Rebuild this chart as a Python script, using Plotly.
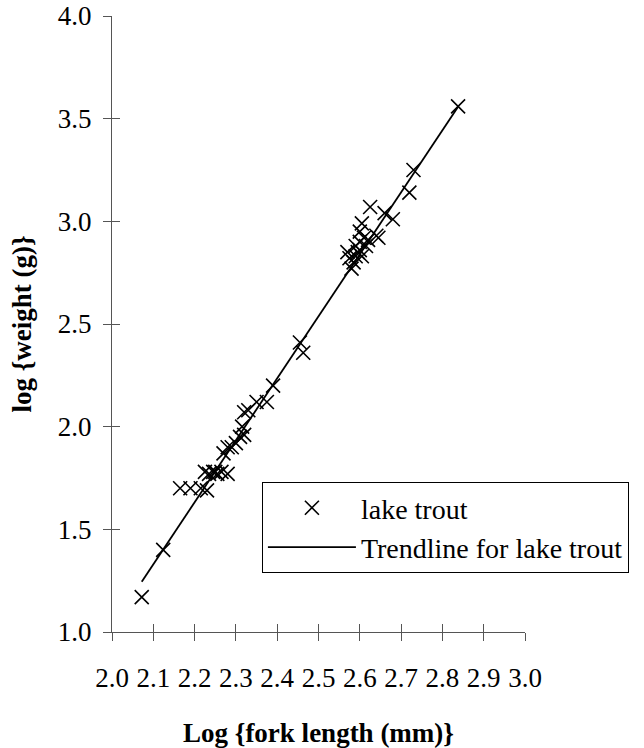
import plotly.graph_objects as go

# Observed data: log fork length (mm) vs log weight (g)
log_length = [2.072, 2.124, 2.165, 2.19, 2.215, 2.23, 2.225, 2.235, 2.245, 2.25,
              2.255, 2.265, 2.28, 2.27, 2.29, 2.28, 2.30, 2.31, 2.32, 2.315,
              2.32, 2.33, 2.35, 2.375, 2.39, 2.455, 2.463,
              2.57, 2.575, 2.58, 2.585, 2.59, 2.59, 2.595, 2.60, 2.60, 2.605,
              2.61, 2.60, 2.605, 2.615, 2.62, 2.625, 2.64, 2.645, 2.66, 2.68,
              2.72, 2.73, 2.838]
log_weight = [1.17, 1.40, 1.70, 1.70, 1.70, 1.69, 1.78, 1.77, 1.78, 1.78,
              1.77, 1.78, 1.77, 1.87, 1.90, 1.90, 1.92, 1.95, 1.96, 2.00,
              2.07, 2.08, 2.12, 2.12, 2.20, 2.41, 2.36,
              2.85, 2.82, 2.77, 2.80, 2.83, 2.88, 2.85, 2.90, 2.86, 2.83,
              2.92, 2.95, 2.99, 2.88, 2.91, 3.07, 2.93, 2.92, 3.04, 3.01,
              3.14, 3.25, 3.56]

# Trendline endpoints
trend_x = [2.072, 2.838]
trend_y = [1.245, 3.558]

x_ticks = [2.0, 2.1, 2.2, 2.3, 2.4, 2.5, 2.6, 2.7, 2.8, 2.9, 3.0]
y_ticks = [1.0, 1.5, 2.0, 2.5, 3.0, 3.5, 4.0]

FONT = "Liberation Serif"
FS = 27
AXC = "#555555"

fig = go.Figure()
fig.add_trace(go.Scatter(
    x=log_length, y=log_weight, mode="markers", name="lake trout",
    marker=dict(symbol="x-thin", size=14, color="black",
                line=dict(width=1.6, color="black"))))
fig.add_trace(go.Scatter(
    x=trend_x, y=trend_y, mode="lines", name="Trendline for lake trout",
    line=dict(color="black", width=1.8)))

common_x = dict(range=[2.0, 3.0], tickvals=x_ticks, showgrid=False, zeroline=False,
                showline=True, linecolor=AXC, linewidth=1, tickcolor=AXC, ticklen=8,
                automargin=False)
common_y = dict(range=[1.0, 4.0], tickvals=y_ticks, showgrid=False, zeroline=False,
                showline=True, linecolor=AXC, linewidth=1, tickcolor=AXC, ticklen=8,
                automargin=False)

fig.update_layout(
    width=644, height=748,
    margin=dict(l=112, r=119, t=16, b=116),
    paper_bgcolor="white", plot_bgcolor="white",
    font=dict(family=FONT, size=FS, color="black"),
    xaxis=dict(**common_x, ticks="outside", tickformat=".1f",
               ticklabelstandoff=14,
               tickfont=dict(family=FONT, size=FS),
               title=dict(text="<b>Log {fork length (mm)}</b>", standoff=34,
                          font=dict(family=FONT, size=FS))),
    yaxis=dict(**common_y, ticks="outside", tickformat=".1f",
               ticklabelstandoff=6,
               tickfont=dict(family=FONT, size=FS),
               title=dict(text="<b>log {weight (g)}</b>", standoff=18,
                          font=dict(family=FONT, size=FS))),
    xaxis2=dict(**common_x, ticks="inside", overlaying="x", side="bottom",
                showticklabels=False, matches="x"),
    yaxis2=dict(**common_y, ticks="inside", overlaying="y", side="left",
                showticklabels=False, matches="y"),
    legend=dict(x=0.363, y=0.2435, xanchor="left", yanchor="top",
                bordercolor="black", borderwidth=1, bgcolor="white",
                font=dict(family=FONT, size=28), tracegroupgap=0,
                itemwidth=88),
    showlegend=True,
)
# invisible helper trace to activate the overlay axes
fig.add_trace(go.Scatter(x=[None], y=[None], xaxis="x2", yaxis="y2",
                         showlegend=False, hoverinfo="skip"))

fig.write_html("out.html")
